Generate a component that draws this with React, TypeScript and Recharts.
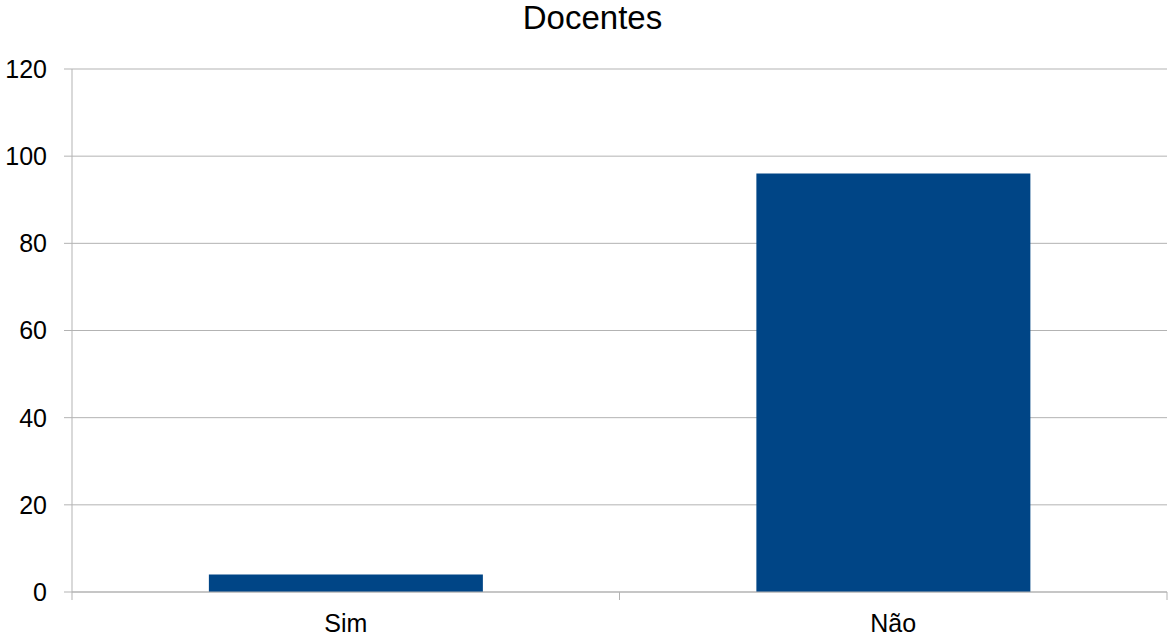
import React from 'react';
import { BarChart, Bar, XAxis, YAxis, CartesianGrid } from 'recharts';

const categories = ['Sim', 'Não'];
const docentes = [4, 96];
const yTicks = [0, 20, 40, 60, 80, 100, 120];

const data = categories.map((name, i) => ({ name, value: docentes[i] }));

const GRID = '#b3b3b3';
const FONT = '"Liberation Sans", Arial, sans-serif';

// category ticks sit on the band edges, labels in the middle
const CategoryTick = (props: any) => {
  const { x, y, payload, index, width, visibleTicksCount } = props;
  const band = width / visibleTicksCount;
  const last = index === visibleTicksCount - 1;
  return (
    <g>
      <line x1={x - band / 2} x2={x - band / 2} y1={y - 8} y2={y} stroke={GRID} strokeWidth={1} />
      {last && <line x1={x + band / 2} x2={x + band / 2} y1={y - 8} y2={y} stroke={GRID} strokeWidth={1} />}
      <text x={x} y={y + 32} textAnchor="middle" fill="#000" fontSize={25} fontFamily={FONT}>
        {payload.value}
      </text>
    </g>
  );
};

export default function App() {
  return (
    <div style={{ position: 'absolute', left: 0, top: 0, width: 1169, height: 639, background: '#fff' }}>
      <div
        style={{
          position: 'absolute',
          left: 0,
          top: 1,
          width: 1185,
          textAlign: 'center',
          fontFamily: FONT,
          fontSize: 33,
          lineHeight: '33px',
          color: '#000',
        }}
      >
        Docentes
      </div>
      <BarChart width={1169} height={639} data={data} margin={{ top: 69, right: 2, left: 0, bottom: 0 }} barCategoryGap="25%">
        <CartesianGrid vertical={false} stroke={GRID} strokeWidth={1} />
        <XAxis
          dataKey="name"
          height={47}
          axisLine={{ stroke: GRID }}
          tickLine={false}
          tick={<CategoryTick />}
          interval={0}
        />
        <YAxis
          width={72}
          domain={[0, 120]}
          ticks={yTicks}
          interval={0}
          axisLine={{ stroke: GRID }}
          tickLine={{ stroke: GRID }}
          tickSize={8}
          tickMargin={17}
          tick={{ fill: '#000', fontSize: 25, fontFamily: FONT }}
        />
        <YAxis yAxisId="right" orientation="right" width={0} tick={false} tickLine={false} axisLine={{ stroke: GRID }} />
        <Bar dataKey="value" fill="#004586" isAnimationActive={false} />
      </BarChart>
    </div>
  );
}
